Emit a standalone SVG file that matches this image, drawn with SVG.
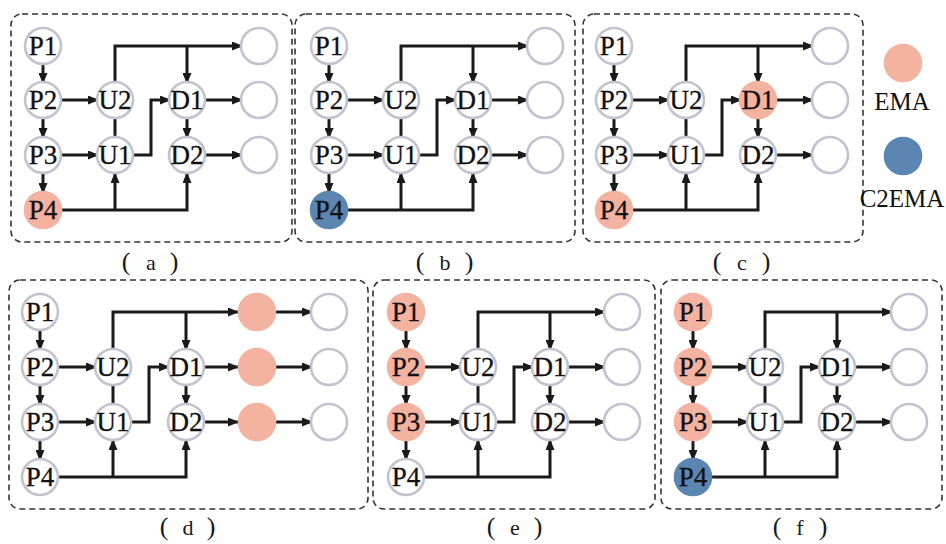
<svg xmlns="http://www.w3.org/2000/svg" width="946" height="544" viewBox="0 0 946 544">
<style>
.box{fill:none;stroke:#333;stroke-width:1.6;stroke-dasharray:6 4}
.n{fill:#fff;stroke:#c3c3cf;stroke-width:2.6}
.pk{fill:#f4b2a1;stroke:#f4b2a1;stroke-width:2.6}
.bl{fill:#5a86b1;stroke:#5a86b1;stroke-width:2.6}
.t{font-family:"Liberation Serif","Times New Roman",serif;font-size:27px;fill:#111;stroke:#111;stroke-width:0.3;text-anchor:middle}
.lg{font-family:"Liberation Serif","Times New Roman",serif;font-size:25px;fill:#111;text-anchor:middle}
.cap{font-family:"Liberation Serif","Times New Roman",serif;font-size:22px;fill:#1a1a1a;text-anchor:middle}
.pr{font-size:26px}
.e{fill:none;stroke:#1a1a1a;stroke-width:3}
.a{marker-end:url(#ar)}
</style>
<defs>
<marker id="ar" markerUnits="userSpaceOnUse" markerWidth="11" markerHeight="9" refX="10" refY="4.5" orient="auto">
<path d="M0,0 L11,4.5 L0,9 z" fill="#1a1a1a"/>
</marker>
</defs>
<rect width="946" height="544" fill="#fff"/>

<!-- boxes -->
<g id="boxes">
<rect class="box" x="11" y="14" width="281" height="228" rx="11"/>
<rect class="box" x="295" y="14" width="280" height="228" rx="11"/>
<rect class="box" x="583" y="14" width="280" height="228" rx="11"/>
<rect class="box" x="9" y="280" width="359" height="229" rx="11"/>
<rect class="box" x="373" y="280" width="282" height="229" rx="11"/>
<rect class="box" x="661" y="280" width="281" height="229" rx="11"/>
</g>

<!-- connectors -->
<g id="connectors">
<g transform="translate(43,46)">
<path class="e a" d="M0,18V37"/><path class="e a" d="M0,72V92"/><path class="e a" d="M0,127V147"/>
<path class="e a" d="M18,54H55"/><path class="e a" d="M18,109H55"/><path class="e" d="M72,72V91"/>
<path class="e a" d="M72,36V0H199"/><path class="e a" d="M144,0V37"/><path class="e a" d="M90,109H108V54H127"/>
<path class="e a" d="M144,72V92"/><path class="e a" d="M162,54H199"/><path class="e a" d="M162,109H199"/>
<path class="e a" d="M18,164H144V127"/><path class="e a" d="M72,164V127"/>
</g>
<g transform="translate(329,46)">
<path class="e a" d="M0,18V37"/><path class="e a" d="M0,72V92"/><path class="e a" d="M0,127V147"/>
<path class="e a" d="M18,54H55"/><path class="e a" d="M18,109H55"/><path class="e" d="M72,72V91"/>
<path class="e a" d="M72,36V0H199"/><path class="e a" d="M144,0V37"/><path class="e a" d="M90,109H108V54H127"/>
<path class="e a" d="M144,72V92"/><path class="e a" d="M162,54H199"/><path class="e a" d="M162,109H199"/>
<path class="e a" d="M18,164H144V127"/><path class="e a" d="M72,164V127"/>
</g>
<g transform="translate(614,46)">
<path class="e a" d="M0,18V37"/><path class="e a" d="M0,72V92"/><path class="e a" d="M0,127V147"/>
<path class="e a" d="M18,54H55"/><path class="e a" d="M18,109H55"/><path class="e" d="M72,72V91"/>
<path class="e a" d="M72,36V0H199"/><path class="e a" d="M144,0V37"/><path class="e a" d="M90,109H108V54H127"/>
<path class="e a" d="M144,72V92"/><path class="e a" d="M162,54H199"/><path class="e a" d="M162,109H199"/>
<path class="e a" d="M18,164H144V127"/><path class="e a" d="M72,164V127"/>
</g>
<g transform="translate(40,312)">
<path class="e a" d="M0,18V38"/><path class="e a" d="M0,73V93"/><path class="e a" d="M0,128V148"/>
<path class="e a" d="M18,55H56"/><path class="e a" d="M18,110H56"/><path class="e" d="M73,73V92"/>
<path class="e a" d="M73,37V0H198"/><path class="e a" d="M146,0V38"/><path class="e a" d="M91,110H109V55H129"/>
<path class="e a" d="M146,73V93"/><path class="e a" d="M164,55H198"/><path class="e a" d="M164,110H198"/>
<path class="e a" d="M236,0H272"/><path class="e a" d="M236,55H272"/><path class="e a" d="M236,110H272"/>
<path class="e a" d="M18,165H146V128"/><path class="e a" d="M73,165V128"/>
</g>
<g transform="translate(406,312)">
<path class="e a" d="M0,18V38"/><path class="e a" d="M0,73V93"/><path class="e a" d="M0,128V148"/>
<path class="e a" d="M18,55H55"/><path class="e a" d="M18,110H55"/><path class="e" d="M72,73V92"/>
<path class="e a" d="M72,37V0H199"/><path class="e a" d="M144,0V38"/><path class="e a" d="M90,110H108V55H127"/>
<path class="e a" d="M144,73V93"/><path class="e a" d="M162,55H199"/><path class="e a" d="M162,110H199"/>
<path class="e a" d="M18,165H144V128"/><path class="e a" d="M72,165V128"/>
</g>
<g transform="translate(693,312)">
<path class="e a" d="M0,18V38"/><path class="e a" d="M0,73V93"/><path class="e a" d="M0,128V148"/>
<path class="e a" d="M18,55H55"/><path class="e a" d="M18,110H55"/><path class="e" d="M72,73V92"/>
<path class="e a" d="M72,37V0H199"/><path class="e a" d="M144,0V38"/><path class="e a" d="M90,110H108V55H127"/>
<path class="e a" d="M144,73V93"/><path class="e a" d="M162,55H199"/><path class="e a" d="M162,110H199"/>
<path class="e a" d="M18,165H144V128"/><path class="e a" d="M72,165V128"/>
</g>
</g>

<!-- panel a -->
<g transform="translate(43,46)">
<g id="a-P1"><circle class="n" cx="0" cy="0" r="18"/><text class="t" x="0" y="9">P1</text></g>
<g id="a-P2"><circle class="n" cx="0" cy="54" r="18"/><text class="t" x="0" y="63">P2</text></g>
<g id="a-P3"><circle class="n" cx="0" cy="109" r="18"/><text class="t" x="0" y="118">P3</text></g>
<g id="a-P4"><circle class="pk" cx="0" cy="164" r="18"/><text class="t" x="0" y="173">P4</text></g>
<g id="a-U2"><circle class="n" cx="72" cy="54" r="18"/><text class="t" x="72" y="63">U2</text></g>
<g id="a-U1"><circle class="n" cx="72" cy="109" r="18"/><text class="t" x="72" y="118">U1</text></g>
<g id="a-D1"><circle class="n" cx="144" cy="54" r="18"/><text class="t" x="144" y="63">D1</text></g>
<g id="a-D2"><circle class="n" cx="144" cy="109" r="18"/><text class="t" x="144" y="118">D2</text></g>
<g id="a-O1"><circle class="n" cx="216" cy="0" r="18"/></g>
<g id="a-O2"><circle class="n" cx="216" cy="54" r="18"/></g>
<g id="a-O3"><circle class="n" cx="216" cy="109" r="18"/></g>
</g>
<text class="cap" y="270"><tspan class="pr" x="126">(</tspan><tspan x="151">a</tspan><tspan class="pr" x="174">)</tspan></text>

<!-- panel b -->
<g transform="translate(329,46)">
<g id="b-P1"><circle class="n" cx="0" cy="0" r="18"/><text class="t" x="0" y="9">P1</text></g>
<g id="b-P2"><circle class="n" cx="0" cy="54" r="18"/><text class="t" x="0" y="63">P2</text></g>
<g id="b-P3"><circle class="n" cx="0" cy="109" r="18"/><text class="t" x="0" y="118">P3</text></g>
<g id="b-P4"><circle class="bl" cx="0" cy="164" r="18"/><text class="t" x="0" y="173">P4</text></g>
<g id="b-U2"><circle class="n" cx="72" cy="54" r="18"/><text class="t" x="72" y="63">U2</text></g>
<g id="b-U1"><circle class="n" cx="72" cy="109" r="18"/><text class="t" x="72" y="118">U1</text></g>
<g id="b-D1"><circle class="n" cx="144" cy="54" r="18"/><text class="t" x="144" y="63">D1</text></g>
<g id="b-D2"><circle class="n" cx="144" cy="109" r="18"/><text class="t" x="144" y="118">D2</text></g>
<g id="b-O1"><circle class="n" cx="216" cy="0" r="18"/></g>
<g id="b-O2"><circle class="n" cx="216" cy="54" r="18"/></g>
<g id="b-O3"><circle class="n" cx="216" cy="109" r="18"/></g>
</g>
<text class="cap" y="270"><tspan class="pr" x="420">(</tspan><tspan x="445">b</tspan><tspan class="pr" x="469">)</tspan></text>

<!-- panel c -->
<g transform="translate(614,46)">
<g id="c-P1"><circle class="n" cx="0" cy="0" r="18"/><text class="t" x="0" y="9">P1</text></g>
<g id="c-P2"><circle class="n" cx="0" cy="54" r="18"/><text class="t" x="0" y="63">P2</text></g>
<g id="c-P3"><circle class="n" cx="0" cy="109" r="18"/><text class="t" x="0" y="118">P3</text></g>
<g id="c-P4"><circle class="pk" cx="0" cy="164" r="18"/><text class="t" x="0" y="173">P4</text></g>
<g id="c-U2"><circle class="n" cx="72" cy="54" r="18"/><text class="t" x="72" y="63">U2</text></g>
<g id="c-U1"><circle class="n" cx="72" cy="109" r="18"/><text class="t" x="72" y="118">U1</text></g>
<g id="c-D1"><circle class="pk" cx="144" cy="54" r="18"/><text class="t" x="144" y="63">D1</text></g>
<g id="c-D2"><circle class="n" cx="144" cy="109" r="18"/><text class="t" x="144" y="118">D2</text></g>
<g id="c-O1"><circle class="n" cx="216" cy="0" r="18"/></g>
<g id="c-O2"><circle class="n" cx="216" cy="54" r="18"/></g>
<g id="c-O3"><circle class="n" cx="216" cy="109" r="18"/></g>
</g>
<text class="cap" y="270"><tspan class="pr" x="717">(</tspan><tspan x="742">c</tspan><tspan class="pr" x="766">)</tspan></text>

<!-- legend -->
<g id="legend-EMA"><circle class="pk" cx="903" cy="63" r="18"/><text class="lg" x="902" y="110">EMA</text></g>
<g id="legend-C2EMA"><circle class="bl" cx="903" cy="156" r="18"/><text class="lg" x="902" y="207">C2EMA</text></g>

<!-- panel d -->
<g transform="translate(40,312)">
<g id="d-P1"><circle class="n" cx="0" cy="0" r="18"/><text class="t" x="0" y="9">P1</text></g>
<g id="d-P2"><circle class="n" cx="0" cy="55" r="18"/><text class="t" x="0" y="64">P2</text></g>
<g id="d-P3"><circle class="n" cx="0" cy="110" r="18"/><text class="t" x="0" y="119">P3</text></g>
<g id="d-P4"><circle class="n" cx="0" cy="165" r="18"/><text class="t" x="0" y="174">P4</text></g>
<g id="d-U2"><circle class="n" cx="73" cy="55" r="18"/><text class="t" x="73" y="64">U2</text></g>
<g id="d-U1"><circle class="n" cx="73" cy="110" r="18"/><text class="t" x="73" y="119">U1</text></g>
<g id="d-D1"><circle class="n" cx="146" cy="55" r="18"/><text class="t" x="146" y="64">D1</text></g>
<g id="d-D2"><circle class="n" cx="146" cy="110" r="18"/><text class="t" x="146" y="119">D2</text></g>
<g id="d-M1"><circle class="pk" cx="217" cy="0" r="18"/></g>
<g id="d-M2"><circle class="pk" cx="217" cy="55" r="18"/></g>
<g id="d-M3"><circle class="pk" cx="217" cy="110" r="18"/></g>
<g id="d-O1"><circle class="n" cx="289" cy="0" r="18"/></g>
<g id="d-O2"><circle class="n" cx="289" cy="55" r="18"/></g>
<g id="d-O3"><circle class="n" cx="289" cy="110" r="18"/></g>
</g>
<text class="cap" y="535"><tspan class="pr" x="164">(</tspan><tspan x="188">d</tspan><tspan class="pr" x="211">)</tspan></text>

<!-- panel e -->
<g transform="translate(406,312)">
<g id="e-P1"><circle class="pk" cx="0" cy="0" r="18"/><text class="t" x="0" y="9">P1</text></g>
<g id="e-P2"><circle class="pk" cx="0" cy="55" r="18"/><text class="t" x="0" y="64">P2</text></g>
<g id="e-P3"><circle class="pk" cx="0" cy="110" r="18"/><text class="t" x="0" y="119">P3</text></g>
<g id="e-P4"><circle class="n" cx="0" cy="165" r="18"/><text class="t" x="0" y="174">P4</text></g>
<g id="e-U2"><circle class="n" cx="72" cy="55" r="18"/><text class="t" x="72" y="64">U2</text></g>
<g id="e-U1"><circle class="n" cx="72" cy="110" r="18"/><text class="t" x="72" y="119">U1</text></g>
<g id="e-D1"><circle class="n" cx="144" cy="55" r="18"/><text class="t" x="144" y="64">D1</text></g>
<g id="e-D2"><circle class="n" cx="144" cy="110" r="18"/><text class="t" x="144" y="119">D2</text></g>
<g id="e-O1"><circle class="n" cx="216" cy="0" r="18"/></g>
<g id="e-O2"><circle class="n" cx="216" cy="55" r="18"/></g>
<g id="e-O3"><circle class="n" cx="216" cy="110" r="18"/></g>
</g>
<text class="cap" y="535"><tspan class="pr" x="491">(</tspan><tspan x="515">e</tspan><tspan class="pr" x="538">)</tspan></text>

<!-- panel f -->
<g transform="translate(693,312)">
<g id="f-P1"><circle class="pk" cx="0" cy="0" r="18"/><text class="t" x="0" y="9">P1</text></g>
<g id="f-P2"><circle class="pk" cx="0" cy="55" r="18"/><text class="t" x="0" y="64">P2</text></g>
<g id="f-P3"><circle class="pk" cx="0" cy="110" r="18"/><text class="t" x="0" y="119">P3</text></g>
<g id="f-P4"><circle class="bl" cx="0" cy="165" r="18"/><text class="t" x="0" y="174">P4</text></g>
<g id="f-U2"><circle class="n" cx="72" cy="55" r="18"/><text class="t" x="72" y="64">U2</text></g>
<g id="f-U1"><circle class="n" cx="72" cy="110" r="18"/><text class="t" x="72" y="119">U1</text></g>
<g id="f-D1"><circle class="n" cx="144" cy="55" r="18"/><text class="t" x="144" y="64">D1</text></g>
<g id="f-D2"><circle class="n" cx="144" cy="110" r="18"/><text class="t" x="144" y="119">D2</text></g>
<g id="f-O1"><circle class="n" cx="216" cy="0" r="18"/></g>
<g id="f-O2"><circle class="n" cx="216" cy="55" r="18"/></g>
<g id="f-O3"><circle class="n" cx="216" cy="110" r="18"/></g>
</g>
<text class="cap" y="535"><tspan class="pr" x="777">(</tspan><tspan x="800">f</tspan><tspan class="pr" x="823">)</tspan></text>
</svg>
